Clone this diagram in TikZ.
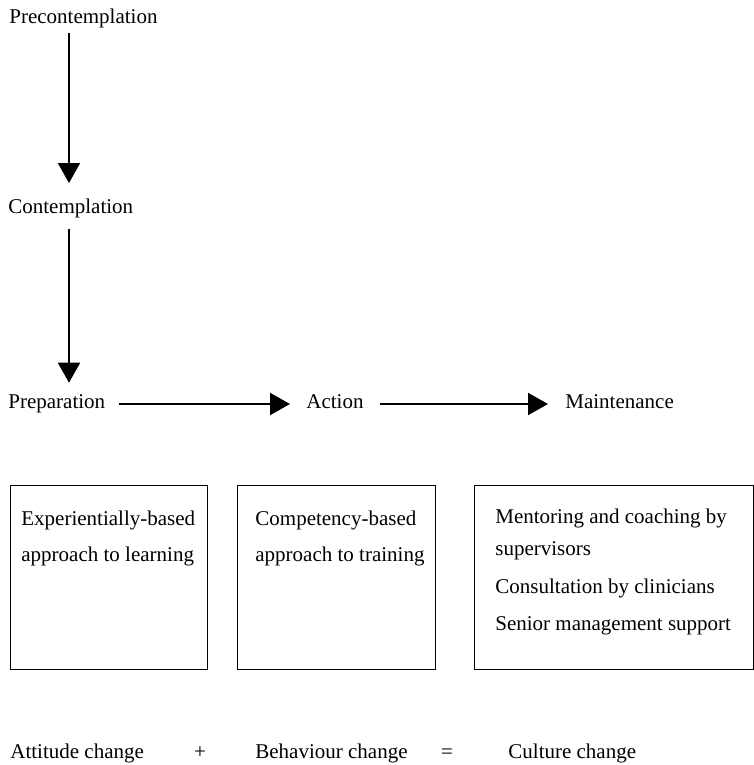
\documentclass[tikz,border=0pt]{standalone}
\usepackage{fontspec}
\setmainfont{Liberation Serif}
\usetikzlibrary{arrows.meta, positioning, calc}

\begin{document}
\begin{tikzpicture}[x=0.5pt, y=-0.5pt,
    stage/.style={inner sep=0pt, 
      anchor=base west, 
      font=\fontsize{10.5}{12}\selectfont},
    flow/.style={line width=1pt, 
      -{Triangle[length=10pt, width=11pt]}},
    box/.style={draw, 
      line width=0.6pt, 
      inner sep=0pt, 
      anchor=north west, 
      minimum height=92pt},
    note/.style={inner sep=0pt, 
      anchor=north west, 
      align=left, 
      font=\fontsize{10.5}{18}\selectfont}]
  \useasboundingbox (0,0) rectangle (754,765);

  % STAGES OF CHANGE

  \node[stage] (precon) at (9,24) {Precontemplation};
  \node[stage] (contem) at (8,213) {Contemplation};
  \node[stage] (prep) at (8,408) {Preparation};
  \node[stage] (action) at (306,408) {Action};
  \node[stage] (maint) at (565,408) {Maintenance};

  \draw[flow] ($(precon.south west)+(60,4)$) 
  -- ($(contem.north west)+(61,-15)$);

  \draw[flow] ($(contem.south west)+(61,11)$) 
  -- ($(prep.north west)+(61,-11)$);

  \draw[flow] ($(prep.base east)+(13,-4)$) 
  -- ($(action.base west)+(-16,-4)$);

  \draw[flow] ($(action.base east)+(16,-4)$) 
  -- ($(maint.base west)+(-17,-4)$);

  % INTERVENTIONS

  \node[box, minimum width=98.5pt] (expbox) at (10,485) {};
  \node[box, minimum width=99pt] (compbox) at (237,485) {};
  \node[box, minimum width=139.5pt] (mentbox) at (474,485) {};

  \node[note] at ([shift={(11,26)}]expbox.north west) (exptext) 
  {Experientially-based\\approach to learning};

  \node[note] at ([shift={(18,26)}]compbox.north west) (comptext) 
  {Competency-based\\approach to training};

  \node[note, font=\fontsize{10.5}{16}\selectfont] 
  at ([shift={(21,24)}]mentbox.north west) (menttext) 
  {Mentoring and coaching by\\supervisors\\[3pt]
    Consultation by clinicians\\[2.5pt]
    Senior management support};

  % OUTCOME

  \node[stage] (attitude) at (10,758) {Attitude change};
  \node[stage, anchor=base] (plus) at (200,758) {+};
  \node[stage] (behaviour) at (255,758) {Behaviour change};
  \node[stage, anchor=base] (equals) at (447,758) {=};
  \node[stage] (culture) at (508,758) {Culture change};

\end{tikzpicture}
\end{document}
